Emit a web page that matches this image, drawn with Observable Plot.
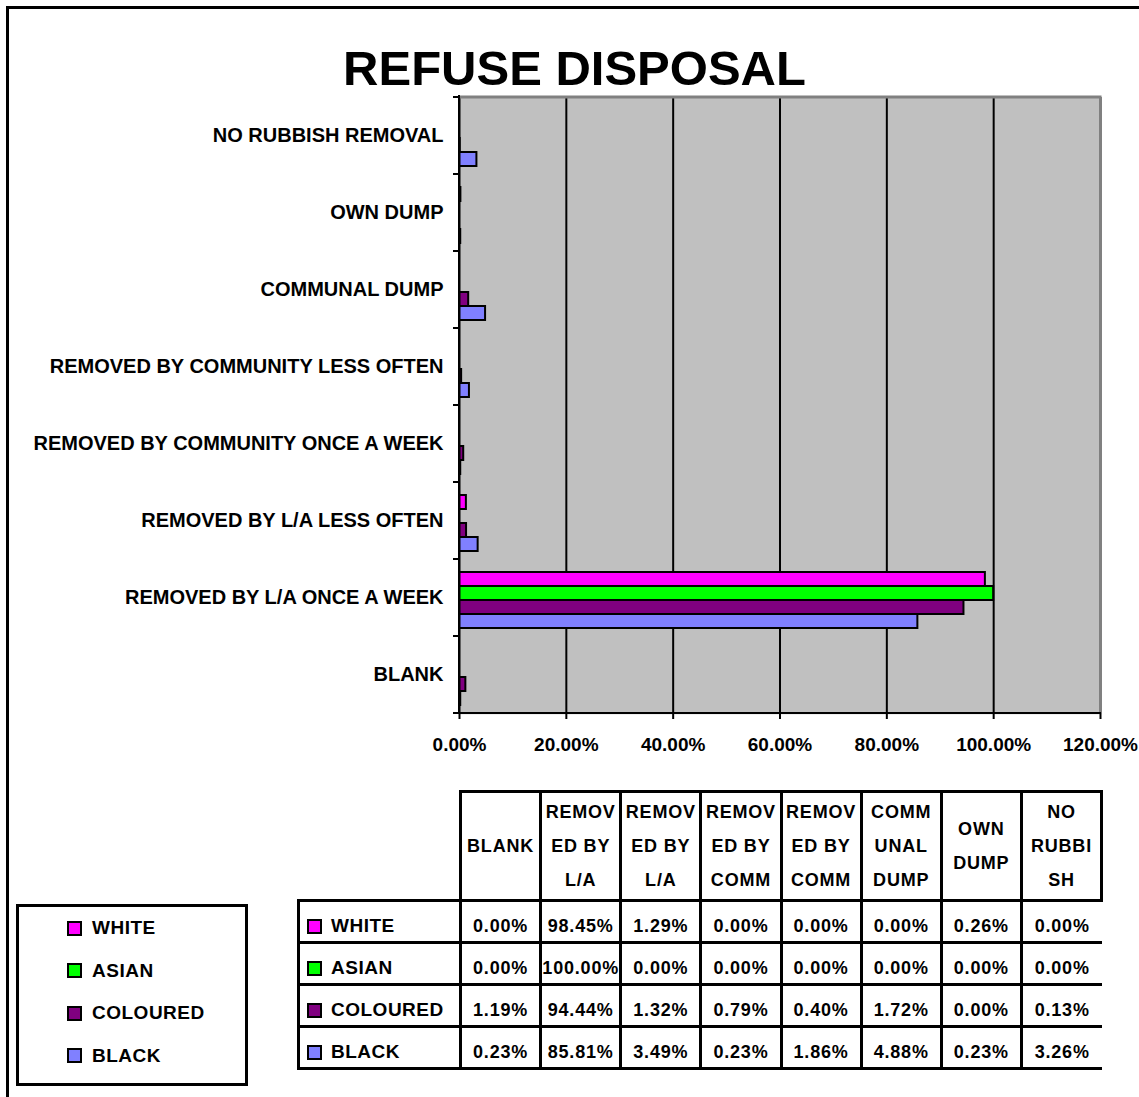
<!DOCTYPE html>
<html><head><meta charset="utf-8">
<script src="https://cdn.jsdelivr.net/npm/d3@7"></script>
<script src="https://cdn.jsdelivr.net/npm/@observablehq/plot@0.6"></script>
<style>
html,body{margin:0;padding:0;background:#fff;}
#page{position:relative;width:1139px;height:1097px;overflow:hidden;font-family:"Liberation Sans",Arial,sans-serif;font-weight:bold;color:#000;}
#frame{position:absolute;left:6px;top:6px;width:1140px;height:1100px;border-top:3px solid #000;border-left:3px solid #000;}
#title{position:absolute;left:0;width:1149px;top:44px;line-height:49px;text-align:center;font-size:49px;font-weight:bold;}
#chart{position:absolute;left:0;top:0;}
#chart svg{font-weight:bold;}
#legend{position:absolute;left:16px;top:904px;width:226px;height:170px;padding-bottom:6px;border:3px solid #000;display:flex;flex-direction:column;justify-content:space-around;}
.li{display:flex;align-items:center;padding-left:48px;font-size:19px;letter-spacing:0.5px;}
.sw{width:11px;height:11px;border:2px solid #000;margin-right:10px;flex:none;}
#tbl{position:absolute;left:297px;top:790px;border-collapse:collapse;table-layout:fixed;}
#tbl td,#tbl th{border:3px solid #000;padding:0;font-size:18px;letter-spacing:0.8px;text-align:center;vertical-align:middle;font-weight:bold;}
#tbl th{white-space:pre-line;line-height:34px;height:106px;}
#tbl th.empty{border:none;}
#tbl td{height:30px;padding-top:9px;}
#tbl td.lab{text-align:left;font-size:19px;letter-spacing:0.5px;}
#tbl td.last{border-right:none;}
.lab .in{display:flex;align-items:center;padding-left:7px;}
.lab .sw{margin-right:9px;}
</style></head>
<body>
<div id="page">
  <div id="frame"></div>
  <div id="chart"></div>
  <div id="title">REFUSE DISPOSAL</div>
  <div id="legend"></div>
  <table id="tbl"></table>
</div>
<script>
// ---- data ----
const categories = ["BLANK","REMOVED BY L/A ONCE A WEEK","REMOVED BY L/A LESS OFTEN","REMOVED BY COMMUNITY ONCE A WEEK","REMOVED BY COMMUNITY LESS OFTEN","COMMUNAL DUMP","OWN DUMP","NO RUBBISH REMOVAL"];
const headerLabels = ["BLANK","REMOV\nED BY\nL/A","REMOV\nED BY\nL/A","REMOV\nED BY\nCOMM","REMOV\nED BY\nCOMM","COMM\nUNAL\nDUMP","OWN\nDUMP","NO\nRUBBI\nSH"];
const races = ["WHITE","ASIAN","COLOURED","BLACK"];
const raceColors = ["#ff00ff","#00ff00","#800080","#8080ff"];
const white    = [0.00, 98.45, 1.29, 0.00, 0.00, 0.00, 0.26, 0.00];
const asian    = [0.00,100.00, 0.00, 0.00, 0.00, 0.00, 0.00, 0.00];
const coloured = [1.19, 94.44, 1.32, 0.79, 0.40, 1.72, 0.00, 0.13];
const black    = [0.23, 85.81, 3.49, 0.23, 1.86, 4.88, 0.23, 3.26];
const xTicks = [0,20,40,60,80,100,120];

const series = [white, asian, coloured, black];
const rows = categories.flatMap((c,i) => races.map((r,j) => ({category:c, race:r, value:series[j][i]})));
const fmt = v => v.toFixed(2) + "%";

const plot = Plot.plot({
  width: 1139, height: 770,
  marginLeft: 459, marginRight: 39, marginTop: 94, marginBottom: 55,
  style: {fontFamily: '"Liberation Sans", Arial, sans-serif', fontSize: "20px", background: "transparent", color: "#000"},
  facet: {data: rows, y: "category"},
  fy: {domain: categories.slice().reverse(), padding: 0},
  y: {domain: races, paddingInner: 0, paddingOuter: 0.68, align: 0.6, axis: null},
  x: {domain: [0,120]},
  color: {domain: races, range: raceColors},
  marks: [
    Plot.frame({fill: "#c0c0c0", stroke: "#c0c0c0", strokeWidth: 1.5}),
    Plot.ruleX(xTicks.filter(t => t > 0 && t < 120), {stroke: "#000", strokeWidth: 2}),
    Plot.ruleX([120], {stroke: "#808080", strokeWidth: 3}),
    Plot.barX(rows, {filter: d => d.value > 0, x: "value", y: "race", fill: "race", stroke: "#000", strokeWidth: 2}),
    Plot.ruleX([0], {stroke: "#000", strokeWidth: 2}),
    Plot.axisX({ticks: xTicks, tickFormat: fmt, tickSize: 6, tickPadding: 18, strokeWidth: 2, label: null, fontSize: 19, style:"letter-spacing:1.5px"}),
    Plot.axisFy({anchor: "left", tickSize: 0, tickPadding: 16, label: null})
  ]
});
document.getElementById("chart").appendChild(plot);

// frame details drawn from the library's scales
const fyS = plot.scale("fy"), xS = plot.scale("x");
const svgSel = d3.select(plot);
const px0 = xS.apply(0), px1 = xS.apply(120);
const pTop = fyS.apply(fyS.domain[0]);
const pBottom = fyS.apply(fyS.domain[fyS.domain.length-1]) + fyS.bandwidth;
svgSel.append("line").attr("x1", px0).attr("x2", px1 + 1.5).attr("y1", pTop).attr("y2", pTop).attr("stroke", "#808080").attr("stroke-width", 3);
svgSel.append("line").attr("x1", px0 - 1).attr("x2", px1 + 1).attr("y1", pBottom).attr("y2", pBottom).attr("stroke", "#000").attr("stroke-width", 2);
svgSel.append("line").attr("x1", px0).attr("x2", px0).attr("y1", pTop - 2).attr("y2", pBottom).attr("stroke", "#000").attr("stroke-width", 2);
const edges = fyS.domain.map(d => fyS.apply(d)).concat([pBottom]);
svgSel.append("g").selectAll("line").data(edges).join("line")
  .attr("x1", px0 - 6).attr("x2", px0).attr("y1", d => d).attr("y2", d => d)
  .attr("stroke", "#000").attr("stroke-width", 2);

// legend
const legendSel = d3.select("#legend");
races.forEach((r,j) => {
  const it = legendSel.append("div").attr("class","li");
  it.append("div").attr("class","sw").style("background", raceColors[j]);
  it.append("span").text(r);
});

// data table
const colW = (px1 - px0) / categories.length;
const tbl = d3.select("#tbl");
const cg = tbl.append("colgroup");
cg.append("col").style("width", (px0 - 297) + "px");
categories.forEach(() => cg.append("col").style("width", colW + "px"));
const hr = tbl.append("tr");
hr.append("th").attr("class","empty");
headerLabels.forEach(h => hr.append("th").text(h));
races.forEach((r,j) => {
  const tr = tbl.append("tr");
  const lab = tr.append("td").attr("class","lab").append("div").attr("class","in");
  lab.append("div").attr("class","sw").style("background", raceColors[j]);
  lab.append("span").text(r);
  series[j].forEach((v,i) => tr.append("td").attr("class", i === series[j].length-1 ? "last" : null).text(fmt(v)));
});
</script>
</body></html>
